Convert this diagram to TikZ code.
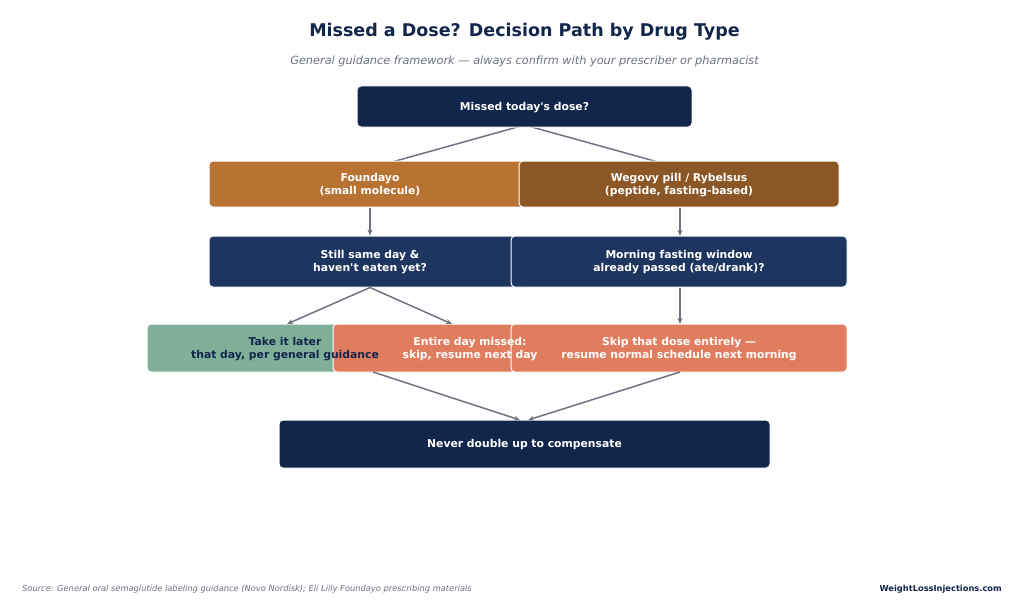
\documentclass[tikz,border=0pt]{standalone}
\usepackage{fontspec}
\setmainfont{DejaVu Sans}[Ligatures=TeXOff]
\usetikzlibrary{arrows.meta}
\definecolor{navy}{HTML}{12254A}
\definecolor{midnavy}{HTML}{1E3560}
\definecolor{copper}{HTML}{B87333}
\definecolor{brown}{HTML}{8B5726}
\definecolor{sage}{HTML}{80B09A}
\definecolor{coral}{HTML}{E07D5F}
\definecolor{arrowgray}{HTML}{6E7480}
\definecolor{subgray}{HTML}{6B7280}
\tikzset{
  box/.style={rectangle, rounded corners=4pt, draw=white, line width=1pt, inner sep=0pt},
  lbl/.style={align=center, text=white, font=\bfseries\fontsize{10.8}{13}\selectfont, inner sep=0pt, yshift=-1pt},
  conn/.style={draw=arrowgray, line width=1.5pt},
  arr/.style={conn, -{Stealth[length=6pt,width=5pt]}},
}
\begin{document}
\begin{tikzpicture}[x=1pt,y=-1pt]
\useasboundingbox (0,0) rectangle (1024,615);
\fill[white] (0,0) rectangle (1024,615);
\node[font=\bfseries\fontsize{17.5}{20}\selectfont, text=navy, inner sep=0pt] (title) at (524.5,31.5) {Missed a Dose? Decision Path by Drug Type};
\node[font=\itshape\fontsize{11.3}{13}\selectfont, text=subgray, inner sep=0pt] (subtitle) at (524.5,61.5) {General guidance framework — always confirm with your prescriber or pharmacist};

% connectors behind boxes
\coordinate (mb) at (524.5,125);
\draw[conn] (mb) -- (392,162);
\draw[conn] (mb) -- (658,162);

% boxes
\node[box, fill=navy, minimum width=335pt, minimum height=41pt] (missed) at (524.5,106.5) {};
\node[box, fill=copper, minimum width=322pt, minimum height=46pt] (found) at (370,184) {};
\node[box, fill=brown, minimum width=320pt, minimum height=46pt] (wegovy) at (679,184) {};
\node[box, fill=midnavy, minimum width=322pt, minimum height=51pt] (still) at (370,261.5) {};
\node[box, fill=midnavy, minimum width=336pt, minimum height=51pt] (morning) at (679,261.5) {};
\node[box, fill=sage, minimum width=276pt, minimum height=48pt] (take) at (285,348) {};
\node[box, fill=coral, minimum width=274pt, minimum height=48pt] (entire) at (470,348) {};
\node[box, fill=coral, minimum width=336pt, minimum height=48pt] (skip) at (679,348) {};
\node[box, fill=navy, minimum width=491pt, minimum height=48pt] (never) at (524.5,444) {};

% labels above all boxes
\node[lbl] (missedT) at (missed) {Missed today's dose?};
\node[lbl] (foundT) at (found) {Foundayo\\(small molecule)};
\node[lbl] (wegovyT) at (wegovy) {Wegovy pill / Rybelsus\\(peptide, fasting-based)};
\node[lbl] (stillT) at (still) {Still same day \&\\haven't eaten yet?};
\node[lbl] (morningT) at (morning) {Morning fasting window\\already passed (ate/drank)?};
\node[lbl, text=navy] (takeT) at (take) {Take it later\\that day, per general guidance};
\node[lbl] (entireT) at (entire) {Entire day missed:\\skip, resume next day};
\node[lbl] (skipT) at (skip) {Skip that dose entirely —\\resume normal schedule next morning};
\node[lbl] (neverT) at (never) {Never double up to compensate};

% connectors with arrowheads
\draw[arr] (found.south) -- (still.north);
\draw[arr] (wegovy.south -| 680,0) -- (680,236);
\draw[arr] (still.south) -- (287,324);
\draw[arr] (still.south) -- (452,324);
\draw[arr] (morning.south -| 680,0) -- (680,324);
\draw[arr] (373,372) -- (520,420);
\draw[arr] (680,372) -- (528,420);

\node[anchor=west, inner sep=0pt, font=\itshape\fontsize{8.3}{10}\selectfont, text=subgray] (source) at (22,589) {Source: General oral semaglutide labeling guidance (Novo Nordisk); Eli Lilly Foundayo prescribing materials};
\node[anchor=east, inner sep=0pt, font=\bfseries\fontsize{8.3}{10}\selectfont, text=navy] (brand) at (1002,589) {WeightLossInjections.com};
\end{tikzpicture}
\end{document}
